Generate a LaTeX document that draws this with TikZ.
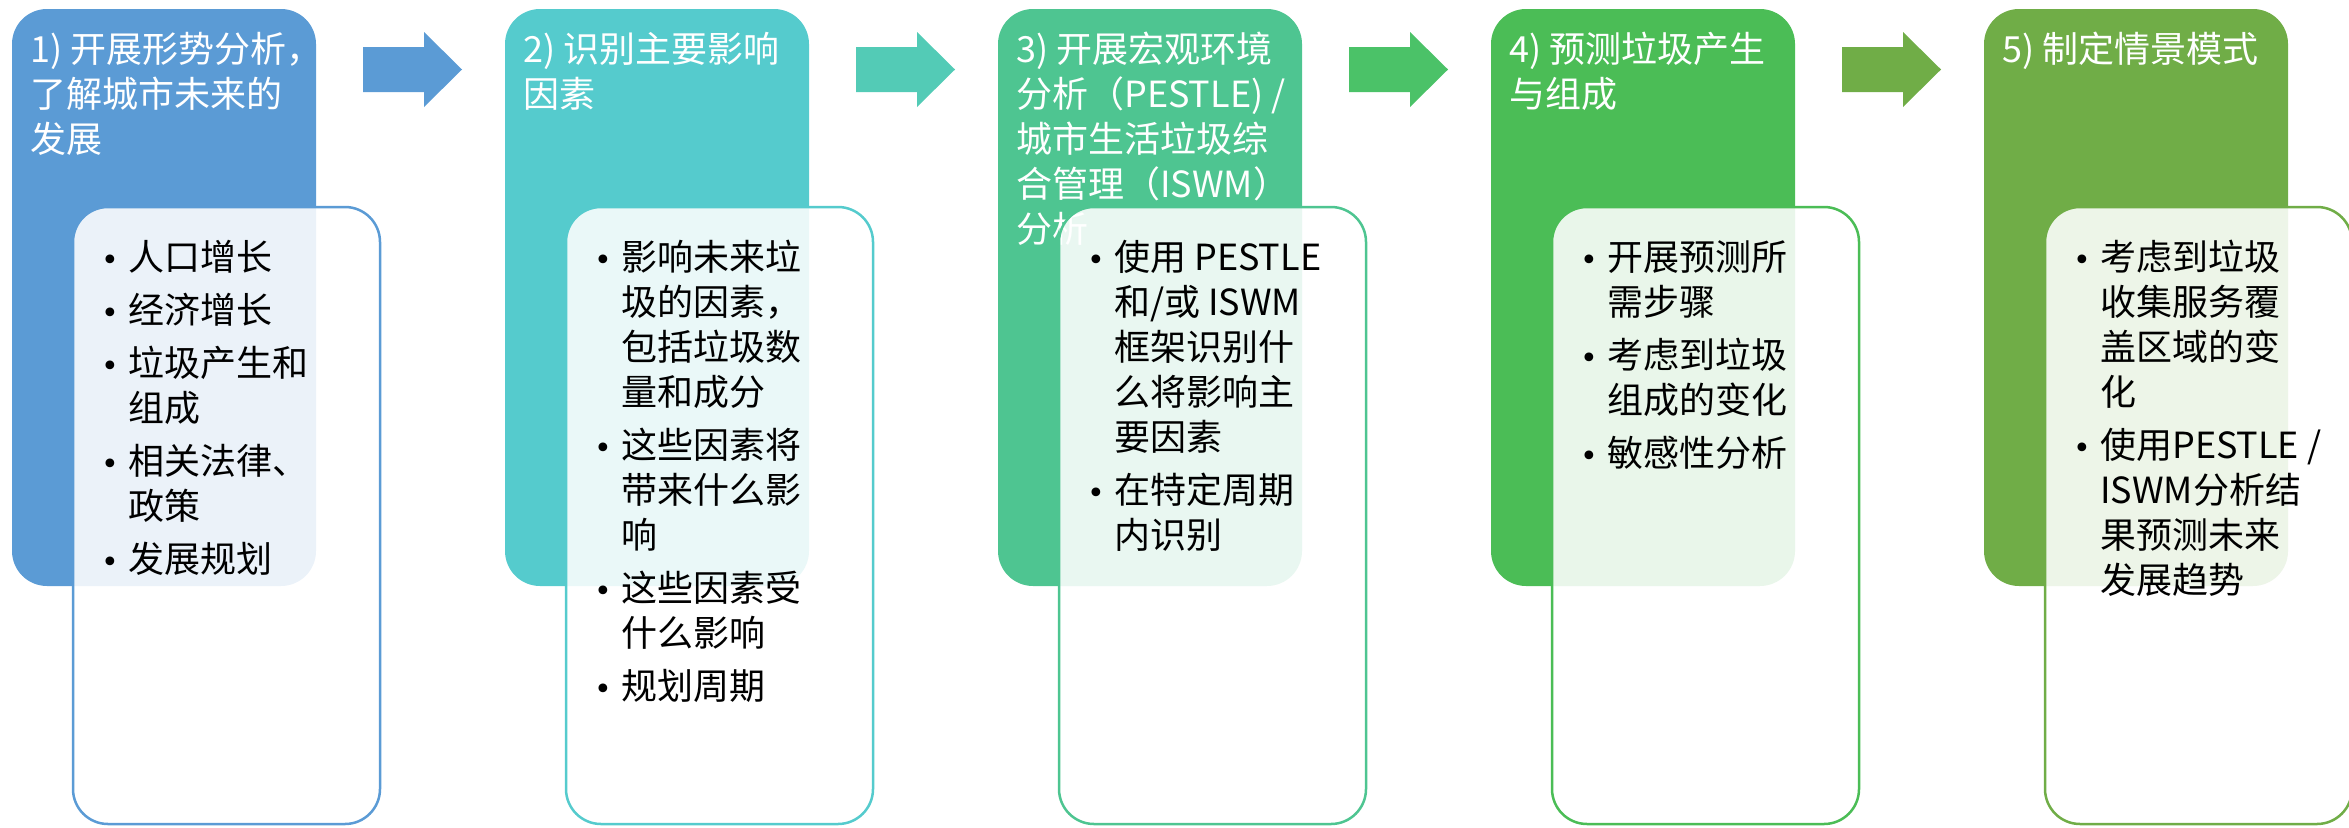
\documentclass[tikz,border=0pt]{standalone}
\usepackage{fontspec}
\setmainfont{Noto Sans CJK SC}
\newfontfamily\dejavu{DejaVu Sans}
\definecolor{cA}{HTML}{5B9BD5}
\definecolor{cB}{HTML}{55CBCD}
\definecolor{cC}{HTML}{4EC591}
\definecolor{cD}{HTML}{4BBD56}
\definecolor{cE}{HTML}{70AD47}
\definecolor{aB}{HTML}{53CBB6}
\definecolor{aC}{HTML}{4BC268}
\newcommand{\bitem}{\par\hangindent=25pt\hangafter=1\noindent\makebox[25pt][l]{\hspace*{-2pt}{\dejavu\fontsize{30pt}{45pt}\selectfont •}}}
\newcommand{\titletext}[1]{\begin{minipage}[t]{330pt}\fontsize{36pt}{45pt}\selectfont\raggedright #1\end{minipage}}
\newcommand{\bullettext}[1]{\begin{minipage}[t]{330pt}\fontsize{36pt}{45pt}\selectfont\parskip=8pt\parfillskip=0pt plus 1fil #1\end{minipage}}
\tikzset{
  outerbox/.style={rounded corners=35pt, minimum width=304pt, minimum height=577pt, inner sep=0pt, draw=none},
  innerbox/.style={rounded corners=35pt, minimum width=307pt, minimum height=617pt, inner sep=0pt, line width=2.5pt, fill=white, fill opacity=0.88},
  titlelbl/.style={anchor=base west, inner sep=0pt, text=white},
  bulletlbl/.style={anchor=base west, inner sep=0pt, text=black},
}
\begin{document}
\begin{tikzpicture}[x=1pt,y=-1pt]
\useasboundingbox (0,0) rectangle (2349,827);
\clip (0,0) rectangle (2349,827);
% box 1
\node[outerbox, fill=cA] (o1) at (164,297.5) {};
\node[titlelbl] (t1) at (30,62) {\titletext{1) 开展形势分析，\\了解城市未来的\\发展}};
\node[innerbox, draw=cA] (i1) at (226.5,515.5) {};
\node[bulletlbl] (l1) at (103,270) {\bullettext{\bitem 人口增长\bitem 经济增长\bitem 垃圾产生和\newline 组成\bitem 相关法律、\newline 政策\bitem 发展规划}};
% box 2
\node[outerbox, fill=cB] (o2) at (657,297.5) {};
\node[titlelbl] (t2) at (523,62) {\titletext{2) 识别主要影响\\因素}};
\node[innerbox, draw=cB] (i2) at (719.5,515.5) {};
\node[bulletlbl] (l2) at (596,270) {\bullettext{\bitem 影响未来垃\newline 圾的因素，\newline 包括垃圾数\newline 量和成分\bitem 这些因素将\newline 带来什么影\newline 响\bitem 这些因素受\newline 什么影响\bitem 规划周期}};
% box 3
\node[outerbox, fill=cC] (o3) at (1150,297.5) {};
\node[titlelbl] (t3) at (1016,62) {\titletext{3) 开展宏观环境\\分析（PESTLE) /\\城市生活垃圾综\\合管理（ISWM）\\分析}};
\node[innerbox, draw=cC] (i3) at (1212.5,515.5) {};
\node[bulletlbl] (l3) at (1089,270) {\bullettext{\bitem 使用 PESTLE\newline 和/或 ISWM\newline 框架识别什\newline 么将影响主\newline 要因素\bitem 在特定周期\newline 内识别}};
% box 4
\node[outerbox, fill=cD] (o4) at (1643,297.5) {};
\node[titlelbl] (t4) at (1509,62) {\titletext{4) 预测垃圾产生\\与组成}};
\node[innerbox, draw=cD] (i4) at (1705.5,515.5) {};
\node[bulletlbl] (l4) at (1582,270) {\bullettext{\bitem 开展预测所\newline 需步骤\bitem 考虑到垃圾\newline 组成的变化\bitem 敏感性分析}};
% box 5
\node[outerbox, fill=cE] (o5) at (2136,297.5) {};
\node[titlelbl] (t5) at (2002,62) {\titletext{5) 制定情景模式}};
\node[innerbox, draw=cE] (i5) at (2198.5,515.5) {};
\node[bulletlbl] (l5) at (2075,270) {\bullettext{\bitem 考虑到垃圾\newline 收集服务覆\newline 盖区域的变\newline 化\bitem 使用PESTLE /\newline ISWM分析结\newline 果预测未来\newline 发展趋势}};
% arrows
\foreach \ox/\col in {0/cA, 493/aB, 986/aC, 1479/cE} {
  \fill[\col] (363+\ox,47) -- (424+\ox,47) -- (424+\ox,32) -- (462+\ox,69.5) -- (424+\ox,107) -- (424+\ox,92) -- (363+\ox,92) -- cycle;
}
\end{tikzpicture}
\end{document}
